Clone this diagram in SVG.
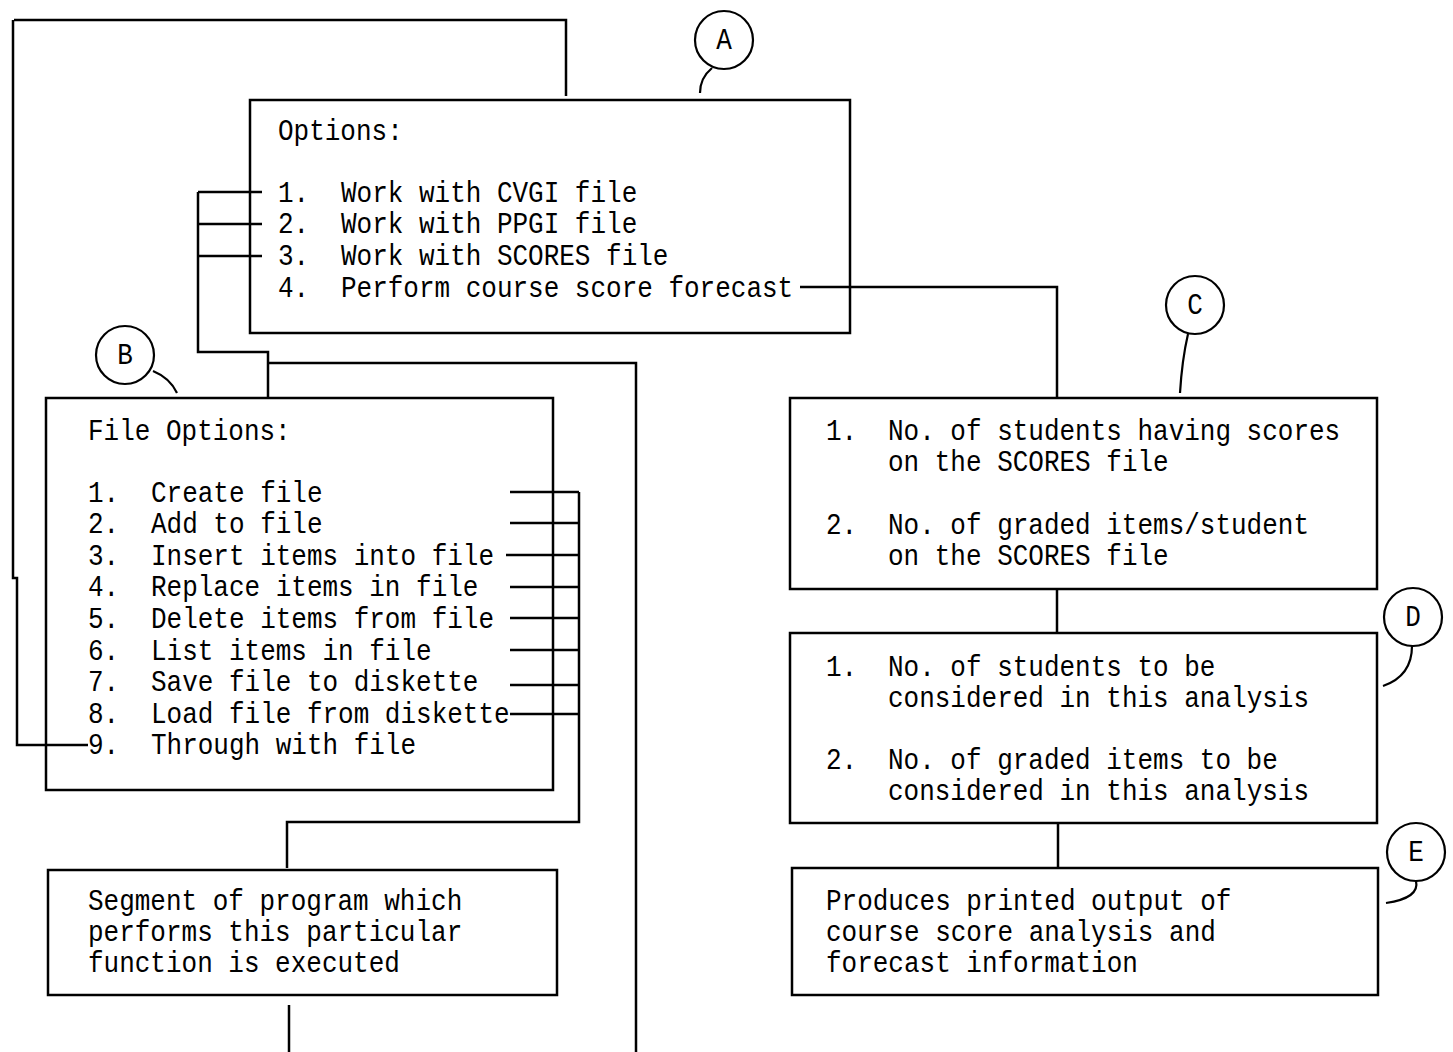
<svg xmlns="http://www.w3.org/2000/svg" width="1453" height="1052" viewBox="0 0 1453 1052">
<style>
.bx{fill:none;stroke:#000;stroke-width:2.5}
.ln{fill:none;stroke:#000;stroke-width:2.5}
.cl{fill:none;stroke:#000;stroke-width:2.2}
.t{font-family:"Liberation Mono","DejaVu Sans Mono",monospace;font-size:26px;fill:#000;white-space:pre}
.lt{font-family:"Liberation Mono","DejaVu Sans Mono",monospace;font-size:26px;fill:#000;text-anchor:middle}
</style>
<rect width="1453" height="1052" fill="#fff"/>

<g id="connectors">
  <path class="ln" d="M14,20 H566 V96"/>
  <path class="ln" d="M13,20 V578 H17 V745 H88"/>
  <path class="ln" d="M198,192 V352 H268 V398"/>
  <path class="ln" d="M198,192 H262 M198,224 H262 M198,256 H262"/>
  <path class="ln" d="M268,363 H636 V1052"/>
  <path class="ln" d="M800,287 H1057 V398"/>
  <path class="ln" d="M510,492 H579 M510,523 H579 M506,555 H579 M510,587 H579 M510,618 H579 M510,650 H579 M510,685 H579 M510,714 H579"/>
  <path class="ln" d="M579,492 V822 H287 V868"/>
  <path class="ln" d="M289,1005 V1052"/>
  <path class="ln" d="M1057,589 V632"/>
  <path class="ln" d="M1058,823 V868"/>
</g>

<g id="calloutA">
  <circle class="cl" cx="724" cy="40" r="29"/>
  <text class="lt" transform="translate(724,49) scale(1,1.15)">A</text>
  <path class="cl" d="M712,68 Q700,78 700,93"/>
</g>
<g id="calloutB">
  <circle class="cl" cx="125" cy="355" r="29"/>
  <text class="lt" transform="translate(125,364) scale(1,1.15)">B</text>
  <path class="cl" d="M153,371 Q170,378 177,393"/>
</g>
<g id="calloutC">
  <circle class="cl" cx="1195" cy="305" r="29"/>
  <text class="lt" transform="translate(1195,314) scale(1,1.15)">C</text>
  <path class="cl" d="M1188,334 Q1182,360 1180,393"/>
</g>
<g id="calloutD">
  <circle class="cl" cx="1413" cy="617" r="29"/>
  <text class="lt" transform="translate(1413,626) scale(1,1.15)">D</text>
  <path class="cl" d="M1412,646 Q1412,676 1383,686"/>
</g>
<g id="calloutE">
  <circle class="cl" cx="1416" cy="852" r="29"/>
  <text class="lt" transform="translate(1416,861) scale(1,1.15)">E</text>
  <path class="cl" d="M1416,881 Q1420,898 1386,903"/>
</g>

<g id="boxA">
  <rect class="bx" x="250" y="100" width="600" height="233"/>
  <text class="t" transform="translate(278,140) scale(1,1.15)">Options:</text>
  <text class="t" transform="translate(278,202) scale(1,1.15)"><tspan x="0">1.</tspan><tspan x="63">Work with CVGI file</tspan></text>
  <text class="t" transform="translate(278,233) scale(1,1.15)"><tspan x="0">2.</tspan><tspan x="63">Work with PPGI file</tspan></text>
  <text class="t" transform="translate(278,265) scale(1,1.15)"><tspan x="0">3.</tspan><tspan x="63">Work with SCORES file</tspan></text>
  <text class="t" transform="translate(278,297) scale(1,1.15)"><tspan x="0">4.</tspan><tspan x="63">Perform course score forecast</tspan></text>
</g>

<g id="boxB">
  <rect class="bx" x="46" y="398" width="507" height="392"/>
  <text class="t" transform="translate(88,440) scale(1,1.15)">File Options:</text>
  <text class="t" transform="translate(88,502) scale(1,1.15)"><tspan x="0">1.</tspan><tspan x="63">Create file</tspan></text>
  <text class="t" transform="translate(88,533) scale(1,1.15)"><tspan x="0">2.</tspan><tspan x="63">Add to file</tspan></text>
  <text class="t" transform="translate(88,565) scale(1,1.15)"><tspan x="0">3.</tspan><tspan x="63">Insert items into file</tspan></text>
  <text class="t" transform="translate(88,596) scale(1,1.15)"><tspan x="0">4.</tspan><tspan x="63">Replace items in file</tspan></text>
  <text class="t" transform="translate(88,628) scale(1,1.15)"><tspan x="0">5.</tspan><tspan x="63">Delete items from file</tspan></text>
  <text class="t" transform="translate(88,660) scale(1,1.15)"><tspan x="0">6.</tspan><tspan x="63">List items in file</tspan></text>
  <text class="t" transform="translate(88,691) scale(1,1.15)"><tspan x="0">7.</tspan><tspan x="63">Save file to diskette</tspan></text>
  <text class="t" transform="translate(88,723) scale(1,1.15)"><tspan x="0">8.</tspan><tspan x="63">Load file from diskette</tspan></text>
  <text class="t" transform="translate(88,754) scale(1,1.15)"><tspan x="0">9.</tspan><tspan x="63">Through with file</tspan></text>
</g>

<g id="boxSegment">
  <rect class="bx" x="48" y="870" width="509" height="125"/>
  <text class="t" transform="translate(88,910) scale(1,1.15)">Segment of program which</text>
  <text class="t" transform="translate(88,941) scale(1,1.15)">performs this particular</text>
  <text class="t" transform="translate(88,972) scale(1,1.15)">function is executed</text>
</g>

<g id="boxC">
  <rect class="bx" x="790" y="398" width="587" height="191"/>
  <text class="t" transform="translate(826,440) scale(1,1.15)"><tspan x="0">1.</tspan><tspan x="62">No. of students having scores</tspan></text>
  <text class="t" transform="translate(888,471) scale(1,1.15)">on the SCORES file</text>
  <text class="t" transform="translate(826,534) scale(1,1.15)"><tspan x="0">2.</tspan><tspan x="62">No. of graded items/student</tspan></text>
  <text class="t" transform="translate(888,565) scale(1,1.15)">on the SCORES file</text>
</g>

<g id="boxD">
  <rect class="bx" x="790" y="633" width="587" height="190"/>
  <text class="t" transform="translate(826,676) scale(1,1.15)"><tspan x="0">1.</tspan><tspan x="62">No. of students to be</tspan></text>
  <text class="t" transform="translate(888,707) scale(1,1.15)">considered in this analysis</text>
  <text class="t" transform="translate(826,769) scale(1,1.15)"><tspan x="0">2.</tspan><tspan x="62">No. of graded items to be</tspan></text>
  <text class="t" transform="translate(888,800) scale(1,1.15)">considered in this analysis</text>
</g>

<g id="boxE">
  <rect class="bx" x="792" y="868" width="586" height="127"/>
  <text class="t" transform="translate(826,910) scale(1,1.15)">Produces printed output of</text>
  <text class="t" transform="translate(826,941) scale(1,1.15)">course score analysis and</text>
  <text class="t" transform="translate(826,972) scale(1,1.15)">forecast information</text>
</g>
</svg>
